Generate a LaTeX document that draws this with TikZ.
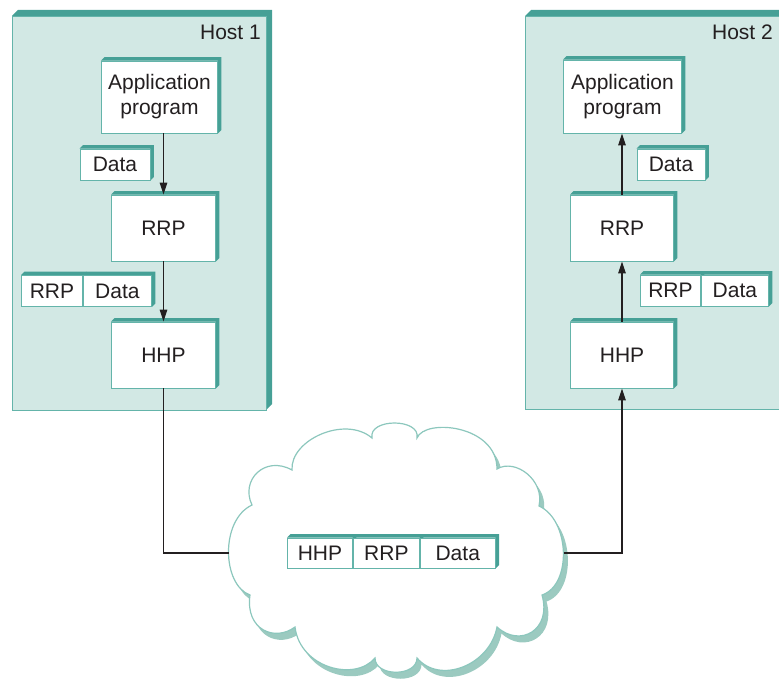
\documentclass[tikz,border=0pt]{standalone}
\usepackage{fontspec}
\setmainfont{Liberation Sans}
\usetikzlibrary{arrows.meta}
\definecolor{hostfill}{HTML}{D2E8E4}
\definecolor{tealdark}{HTML}{46A096}
\definecolor{tealline}{HTML}{64B4AA}
\definecolor{cloudline}{HTML}{8CC7BD}
\definecolor{cloudshadow}{HTML}{9BCAC0}
\definecolor{ink}{HTML}{231F20}
\tikzset{
  lbl/.style={font=\fontsize{21}{25}\selectfont, text=ink},
  box/.style={lbl, draw=tealline, fill=white, line width=0.9pt, inner sep=0pt, align=center,
    append after command={\pgfextra{\fill[tealdark]
      (\tikzlastnode.north west) -- ++(3.5,-3.5) -- ([shift={(3.5,-3.5)}]\tikzlastnode.north east)
      -- ([shift={(3.5,-3.5)}]\tikzlastnode.south east) -- (\tikzlastnode.south east)
      -- (\tikzlastnode.north east) -- cycle;}}},
  cell/.style={box, anchor=west, minimum height=31pt},
  hostframe/.style={draw=tealline, fill=hostfill, line width=0.8pt},
  hostdark/.style={fill=tealdark},
  conn/.style={draw=ink, line width=1.1pt},
  arr/.style={conn, -{Triangle[length=12pt,width=7.5pt]}},
}
\begin{document}
\begin{tikzpicture}[x=1pt,y=-1pt]
\useasboundingbox (0,0) rectangle (779,679);
\clip (0,0) rectangle (779,679);

% Host 1 frame
\fill[hostdark] (12,16) -- (18,10) -- (272,10) -- (272,404) -- (266,410) -- cycle;
\draw[hostframe] (12,16) rectangle (266,410);
\node[lbl, anchor=east, inner sep=0pt] (h1lbl) at (261,32) {Host 1};

% Host 2 frame
\fill[hostdark] (525,16) -- (531,10) -- (800,10) -- (800,403) -- (790,409) -- cycle;
\draw[hostframe] (525,16) rectangle (790,409);
\node[lbl, anchor=east, inner sep=0pt] (h2lbl) at (773,32) {Host 2};

% Host 1 stack
\node[box, minimum width=116pt, minimum height=72pt] (app1) at (159.5,97) {Application\\program};
\node[box, minimum width=70pt, minimum height=31pt] (data1) at (115,164.5) {Data};
\node[box, minimum width=104pt, minimum height=66pt] (rrp1) at (163.5,228) {RRP};
\node[cell, minimum width=61pt] (pr1) at (21,291) {RRP};
\node[cell, minimum width=68pt] (pd1) at (pr1.east) {Data};
\node[box, minimum width=104pt, minimum height=66pt] (hhp1) at (163.5,355) {HHP};

% Host 2 stack
\node[box, minimum width=118pt, minimum height=73pt] (app2) at (622.5,96.5) {Application\\program};
\node[box, minimum width=68pt, minimum height=31pt] (data2) at (671,164.5) {Data};
\node[box, minimum width=103pt, minimum height=66pt] (rrp2) at (622,228) {RRP};
\node[cell, minimum width=60pt] (pr2) at (640,290.5) {RRP};
\node[cell, minimum width=67pt] (pd2) at (pr2.east) {Data};
\node[box, minimum width=103pt, minimum height=66pt] (hhp2) at (622,355) {HHP};

% arrows inside hosts
\draw[arr] (app1.south -| rrp1.north) -- (rrp1.north);
\draw[arr] (rrp1.south) -- (hhp1.north);
\draw[arr] (rrp2.north) -- (rrp2.north |- app2.south);
\draw[arr] (hhp2.north) -- (rrp2.south);

% cloud
\def\cloudpath{(372,438) .. controls (368,418) and (421,418) .. (417,438)
  .. controls (425,418) and (497,425) .. (497,469)
  .. controls (515,458) and (545,480) .. (539,506)
  .. controls (570,520) and (572,585) .. (542,595)
  .. controls (552,630) and (520,648) .. (497,627)
  .. controls (490,665) and (440,685) .. (417,658)
  .. controls (417,677) and (375,677) .. (375,658)
  .. controls (355,682) and (300,668) .. (295,627)
  .. controls (275,642) and (245,630) .. (250,595)
  .. controls (222,585) and (220,520) .. (252,505)
  .. controls (240,480) and (265,455) .. (292,470)
  .. controls (290,440) and (345,415) .. (372,438) -- cycle}
\begin{scope}[shift={(4.5,6.5)}]
\fill[cloudshadow] \cloudpath;
\end{scope}
\filldraw[fill=white, draw=cloudline, line width=1.2pt] \cloudpath;
\coordinate (cl) at (228.5,553);
\coordinate (cr) at (563.5,553);

% packet in cloud
\node[cell, minimum width=65pt, minimum height=30pt] (ph) at (287,553) {HHP};
\node[cell, minimum width=66pt, minimum height=30pt] (pr) at (ph.east) {RRP};
\node[cell, minimum width=75pt, minimum height=30pt] (pd) at (pr.east) {Data};

% links
\draw[conn] (hhp1.south) |- (cl);
\draw[arr] (cr) -| (hhp2.south);
\end{tikzpicture}
\end{document}
